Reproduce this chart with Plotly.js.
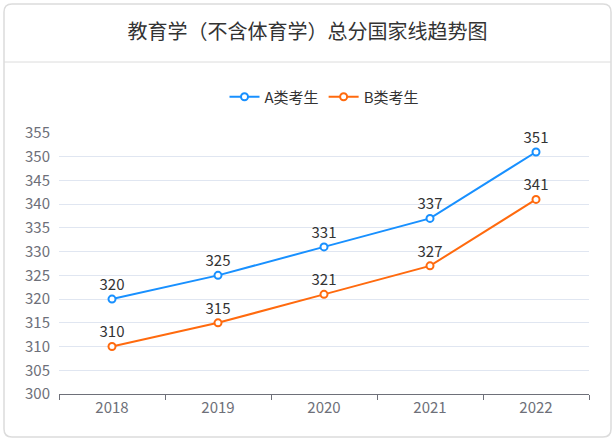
<!DOCTYPE html>
<html>
<head>
<meta charset="utf-8">
<script src="https://cdn.plot.ly/plotly-3.0.1.min.js"></script>
<style>
html, body { margin: 0; padding: 0; background: #fff; }
#plot { width: 615px; height: 441px; }
</style>
</head>
<body>
<div id="plot"></div>
<script>
// years and the two score lines
var years = ["2018", "2019", "2020", "2021", "2022"];
var scoresA = [320, 325, 331, 337, 351];
var scoresB = [310, 315, 321, 327, 341];
var yTicks = [300, 305, 310, 315, 320, 325, 330, 335, 340, 345, 350, 355];

var font = "'Microsoft YaHei', 'Noto Sans CJK SC', sans-serif";

function lineTrace(vals, name, color) {
    return {
        x: years,
        y: vals,
        name: name,
        type: "scatter",
        mode: "lines+markers+text",
        text: vals.map(v => String(v)),
        textposition: "top center",
        textfont: {family: font, size: 15, color: "#333"},
        line: {color: color, width: 2},
        marker: {symbol: "circle", size: 7, color: "#fff", line: {color: color, width: 2}},
        cliponaxis: false
    };
}

var traceA = lineTrace(scoresA, "A类考生", "#1890ff");
var traceB = lineTrace(scoresB, "B类考生", "#ff6a0e");

// pixel -> paper helpers (plot area is 530 x 261, origin at 59,394)
function px(x) { return (x - 59) / 530; }
function py(y) { return (394 - y) / 261; }

var L = 4, R = 611, T = 4, B = 437, rad = 8;
var border = "M " + px(L + rad) + "," + py(T) +
    " L " + px(R - rad) + "," + py(T) +
    " Q " + px(R) + "," + py(T) + " " + px(R) + "," + py(T + rad) +
    " L " + px(R) + "," + py(B - rad) +
    " Q " + px(R) + "," + py(B) + " " + px(R - rad) + "," + py(B) +
    " L " + px(L + rad) + "," + py(B) +
    " Q " + px(L) + "," + py(B) + " " + px(L) + "," + py(B - rad) +
    " L " + px(L) + "," + py(T + rad) +
    " Q " + px(L) + "," + py(T) + " " + px(L + rad) + "," + py(T) + " Z";

var layout = {
    width: 615,
    height: 441,
    margin: {l: 59, r: 26, t: 133, b: 47},
    paper_bgcolor: "#fff",
    plot_bgcolor: "#fff",
    font: {family: font, color: "#6e7079", size: 15},
    title: {
        text: "教育学（不含体育学）总分国家线趋势图",
        font: {family: font, size: 20, color: "#333"},
        x: 0.5, xanchor: "center",
        y: 1 - 32 / 441, yanchor: "middle"
    },
    showlegend: true,
    legend: {
        orientation: "h",
        x: 0.5, xanchor: "center",
        y: py(97), yanchor: "middle",
        font: {family: font, size: 15, color: "#333"},
        itemwidth: 30
    },
    xaxis: {
        type: "category",
        range: [-0.5, 4.5],
        showgrid: false,
        showline: true,
        linecolor: "#6e7079",
        linewidth: 1,
        ticks: "outside",
        tickson: "boundaries",
        ticklen: 5,
        tickcolor: "#6e7079",
        tickfont: {family: font, size: 15, color: "#6e7079"},
        fixedrange: true
    },
    yaxis: {
        range: [300, 355],
        tickvals: yTicks,
        showgrid: true,
        gridcolor: "#e0e6f1",
        zeroline: false,
        showline: false,
        ticks: "",
        ticklabelstandoff: 8,
        tickfont: {family: font, size: 15, color: "#6e7079"},
        fixedrange: true
    },
    shapes: [
        // outer rounded border
        {type: "path", xref: "paper", yref: "paper", path: border,
         line: {color: "#dcdcdc", width: 1.5}},
        // line under the title
        {type: "line", xref: "paper", yref: "paper",
         x0: px(L), x1: px(R), y0: py(62), y1: py(62),
         line: {color: "#dcdcdc", width: 1}}
    ]
};

Plotly.newPlot("plot", [traceA, traceB], layout, {displayModeBar: false, staticPlot: true});
</script>
</body>
</html>
